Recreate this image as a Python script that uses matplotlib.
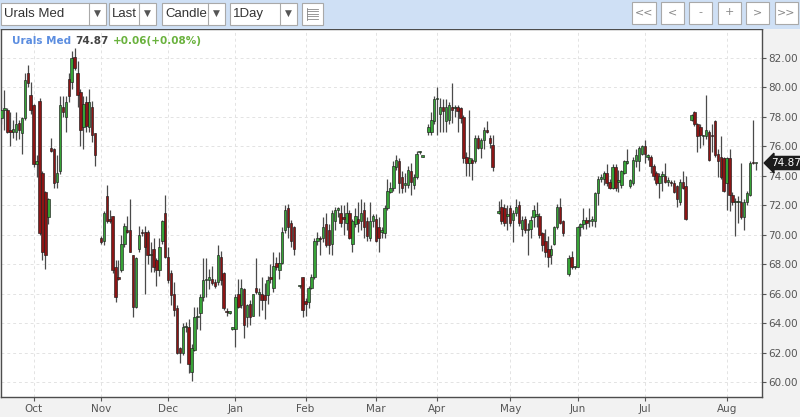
import matplotlib
matplotlib.use("Agg")
import matplotlib.pyplot as plt
from matplotlib.patches import Rectangle
import numpy as np

# ---------------- data (OHLC per session, None = missing session) ----------------
opens = [
    77.9, 78.5, 78.5, 77.1, 77.0, 77.0, 77.6, 76.9, 77.9, 81.0,
    79.5, 78.8, 74.8, 79.1, 74.2, 72.9, 71.2, 75.9, 75.8, 73.6,
    74.3, 78.7, 78.0, 80.6, 80.4, 82.1, 81.0, 79.7, 77.3, 79.0,
    77.3, 78.7, 76.9, None,
    69.8, 69.6, 72.6, 71.05, 71.3, 67.8, 67.1, 67.6, 69.4, 70.3,
    70.3, 68.6, 65.1, 69.0, 70.2, 70.2, 70.2, 68.6, 69.0, 68.3,
    67.6, 69.6, 71.5, 68.5, 67.4, 66.0, 65.0, 62.3, 62.0, 63.7,
    63.7, 60.7, 62.2, 64.4, 64.7, 65.8, 66.9, 66.9, 67.0, 66.8,
    66.8, 68.5, 67.4, 64.85, 64.7, 63.6, 63.6, 66.0, 65.2, 66.3,
    64.4, 65.3, 64.5, 66.4, 66.0, 66.0, 65.9, 65.9, 67.1, 66.4,
    68.1, 67.6, 68.1, 70.3, 71.8, 70.8, 70.5, None,
    66.5, 67.1, 65.5, 65.4, 66.4, 67.1, 69.6, 69.8, 69.8, 70.7,
    70.3, 69.4, 70.9, 71.7, 71.5, 71.2, 70.8, 71.5, 69.4, 70.7,
    71.1, 70.9, 71.7, 70.9, 69.8, 70.9, 71.1, 70.5, 70.2, 70.1,
    71.8, 72.9, 73.2, 74.6, 75.0, 73.9, 73.4, 73.4, 74.3, 73.4,
    73.9, 75.6, 75.3, None,
    77.0, 77.0, 77.7, 79.2, 78.2, 78.7, 77.7, 77.8, 78.7, 78.6,
    78.7, 78.6, 78.0, 75.3, 74.9, 75.1, 75.0, 76.6, 75.9, 76.4,
    77.1, 76.6, 76.1, None,
    71.5, 71.9, 71.8, 71.3, 71.8, 71.0, 71.5, 72.0, 70.4, 71.1,
    70.3, 70.4, 71.2, 71.3, 71.3, 70.1, 69.6, 69.0, 68.6, 69.4,
    70.5, 71.9, 70.9, None,
    67.3, 68.5, 67.8, 67.8, 70.5, 70.7, 71.0, 70.9, 70.9, 70.9,
    72.8, 73.8, 73.8, 74.2, 73.6, 73.2, 74.6, 73.6, 73.4, 74.2,
    74.9, 73.3, 73.5, 75.0, 75.0, 75.5, 76.0, 75.3, 75.3, 74.7,
    74.2, 73.5, 74.0, 74.0, 73.6, 73.6, 73.5, 73.3, 72.2, 73.6,
    73.3, None,
    77.8, 78.3, 77.5, 77.3, 76.7, 76.7, 77.0, 76.8, 77.7, 75.5,
    75.3, 75.2, 73.5, 75.2, 72.7, 72.2, 72.2, 72.2, 71.2, 72.2,
    72.7, 74.9, 74.85,
]
highs = [
    78.7, 79.8, 78.6, 78.3, 77.8, 78.3, 77.8, 78.0, 81.0, 81.5,
    80.4, 78.9, 75.4, 79.3, 74.3, 73.0, 72.5, 76.6, 75.9, 75.4,
    79.4, 79.4, 79.4, 81.0, 82.5, 82.7, 81.8, 79.9, 79.4, 79.4,
    79.9, 79.1, 76.9, None,
    69.9, 71.6, 73.4, 71.7, 71.3, 68.3, 68.3, 70.0, 70.8, 71.3,
    72.4, 68.6, 68.5, 70.6, 70.4, 70.6, 70.3, 69.5, 69.8, 68.4,
    69.8, 71.0, 72.7, 69.2, 67.6, 66.8, 65.2, 62.4, 64.0, 64.1,
    64.3, 62.6, 65.1, 65.1, 66.0, 68.4, 68.4, 67.7, 67.9, 67.0,
    69.3, 68.9, 67.5, 65.0, 64.8, 63.7, 66.0, 67.0, 67.0, 66.4,
    65.3, 65.6, 66.0, 68.4, 66.4, 67.1, 66.7, 67.2, 68.0, 68.8,
    68.5, 68.8, 70.5, 72.0, 72.1, 71.0, 70.6, None,
    66.6, 67.1, 65.7, 66.5, 67.3, 69.8, 70.2, 69.9, 71.2, 71.5,
    70.7, 71.7, 71.9, 71.9, 72.0, 72.0, 72.2, 71.7, 71.1, 71.8,
    72.2, 72.4, 72.2, 71.2, 72.2, 71.4, 71.4, 71.2, 70.5, 72.0,
    73.8, 73.6, 75.0, 75.4, 75.2, 74.3, 74.2, 74.7, 74.9, 74.1,
    75.7, 75.7, 75.35, None,
    77.5, 78.3, 79.4, 80.0, 79.3, 79.2, 79.2, 79.0, 80.3, 78.8,
    78.8, 78.7, 78.1, 75.6, 78.5, 75.2, 76.8, 76.8, 76.6, 77.3,
    77.7, 76.8, 76.8, None,
    72.3, 72.4, 72.1, 72.0, 72.0, 71.7, 72.4, 72.3, 71.3, 71.3,
    70.8, 71.3, 72.0, 72.2, 71.5, 70.2, 70.4, 69.9, 69.3, 70.6,
    72.1, 72.5, 71.0, None,
    68.6, 68.9, 67.9, 70.6, 70.8, 71.8, 71.2, 71.8, 71.3, 72.9,
    74.0, 74.1, 74.3, 74.8, 73.8, 74.8, 74.8, 74.4, 74.4, 75.1,
    75.8, 73.8, 75.3, 75.8, 76.0, 76.1, 76.4, 75.5, 75.4, 74.8,
    74.3, 74.2, 74.3, 74.9, 73.9, 73.7, 73.7, 73.4, 73.8, 74.3,
    74.0, None,
    78.2, 78.4, 77.6, 77.5, 76.8, 79.5, 77.1, 77.5, 77.8, 75.8,
    76.7, 75.3, 75.3, 75.8, 72.9, 72.5, 72.6, 74.9, 72.4, 73.0,
    75.0, 77.8, 74.9,
]
lows = [
    77.5, 77.1, 76.9, 76.0, 76.6, 76.4, 76.5, 75.5, 77.8, 80.0,
    78.2, 74.6, 73.9, 70.0, 68.3, 67.7, 70.7, 75.6, 73.2, 73.2,
    74.1, 78.0, 77.0, 79.0, 79.9, 81.2, 78.7, 76.0, 75.8, 77.0,
    77.0, 76.3, 74.7, None,
    69.4, 69.3, 70.8, 70.8, 67.4, 65.4, 66.9, 67.5, 69.2, 70.1,
    68.8, 64.4, 65.0, 68.8, 69.9, 66.0, 68.0, 67.5, 67.5, 66.5,
    67.2, 69.4, 68.4, 66.7, 65.2, 64.5, 61.9, 61.3, 61.8, 63.4,
    60.6, 60.1, 62.1, 63.6, 63.5, 65.5, 65.8, 66.3, 66.6, 66.4,
    66.6, 66.6, 64.9, 64.5, 64.6, 63.5, 62.4, 65.0, 65.0, 63.0,
    63.7, 63.9, 64.5, 66.0, 64.5, 64.9, 64.3, 65.3, 66.7, 66.1,
    67.6, 67.0, 68.0, 70.1, 69.8, 69.2, 68.6, None,
    66.4, 64.4, 64.5, 65.0, 66.3, 67.0, 69.3, 68.6, 69.5, 69.2,
    68.7, 68.6, 70.3, 71.2, 70.5, 70.0, 70.3, 69.7, 68.8, 70.5,
    70.2, 70.3, 69.8, 69.6, 69.6, 70.5, 69.5, 68.8, 69.8, 69.8,
    71.7, 72.8, 73.0, 74.4, 72.8, 72.8, 72.9, 73.2, 72.7, 73.1,
    73.8, 75.5, 75.25, None,
    76.8, 76.8, 77.5, 76.8, 77.0, 77.0, 77.0, 77.5, 77.6, 78.0,
    77.0, 77.6, 74.9, 74.0, 74.0, 73.7, 74.9, 75.8, 75.2, 75.8,
    76.9, 75.9, 74.3, None,
    71.4, 70.7, 70.6, 70.3, 70.6, 69.5, 71.3, 70.6, 69.9, 70.1,
    68.6, 69.8, 70.5, 70.5, 69.8, 68.9, 68.5, 67.8, 68.0, 69.3,
    70.4, 70.7, 69.9, None,
    67.2, 67.7, 67.7, 67.8, 69.9, 70.4, 70.4, 70.5, 70.6, 70.5,
    72.0, 73.6, 73.4, 73.3, 73.1, 73.1, 73.0, 72.9, 73.2, 74.1,
    74.8, 73.2, 73.4, 74.6, 74.3, 75.4, 74.9, 75.1, 74.2, 73.7,
    73.4, 72.5, 73.0, 73.5, 73.3, 73.3, 72.8, 71.9, 72.0, 73.1,
    71.0, None,
    77.7, 77.4, 75.6, 75.9, 76.1, 76.5, 75.0, 75.6, 75.3, 73.9,
    73.8, 72.9, 71.7, 71.6, 72.0, 69.9, 70.8, 71.1, 70.3, 72.0,
    72.6, 74.8, 74.4,
]
closes = [
    78.5, 78.6, 77.0, 77.0, 77.2, 77.5, 77.1, 77.9, 80.5, 80.3,
    78.5, 74.8, 75.0, 70.1, 68.8, 68.6, 72.4, 75.7, 73.5, 74.2,
    78.8, 78.3, 79.0, 79.4, 82.0, 81.3, 79.5, 77.1, 78.9, 77.4,
    79.0, 76.8, 75.4, None,
    69.5, 71.5, 70.9, 70.95, 67.6, 65.8, 67.0, 69.4, 70.6, 70.2,
    68.8, 65.1, 68.4, 70.0, 70.1, 69.2, 68.6, 68.7, 67.8, 67.6,
    69.2, 70.9, 68.5, 66.9, 65.9, 64.9, 62.0, 62.0, 63.7, 63.8,
    61.2, 62.3, 64.4, 64.5, 65.8, 66.9, 67.0, 67.1, 66.7, 66.5,
    68.6, 66.9, 65.0, 64.75, 64.7, 63.6, 65.8, 65.1, 66.4, 63.9,
    65.2, 64.4, 66.0, 66.1, 66.0, 65.6, 65.6, 66.9, 67.0, 67.9,
    67.8, 68.1, 70.2, 71.7, 70.5, 69.6, 69.0, None,
    66.5, 64.9, 65.3, 66.4, 67.1, 69.6, 69.8, 69.7, 70.5, 69.3,
    69.3, 71.5, 71.7, 71.7, 70.8, 71.1, 71.5, 69.8, 70.9, 71.3,
    70.8, 71.5, 70.5, 69.9, 70.9, 71.3, 69.6, 69.8, 70.2, 71.8,
    73.0, 73.2, 74.7, 75.1, 73.5, 73.2, 73.4, 74.4, 73.6, 73.9,
    75.5, 75.6, 75.3, None,
    77.3, 77.8, 79.2, 79.2, 78.7, 78.4, 78.7, 78.8, 78.5, 78.6,
    78.4, 77.9, 75.2, 74.9, 75.2, 74.9, 76.6, 75.9, 76.4, 77.1,
    77.0, 76.2, 74.6, None,
    71.5, 70.9, 70.8, 71.3, 70.8, 71.5, 71.9, 70.8, 71.0, 70.3,
    70.3, 71.0, 71.7, 71.3, 70.0, 69.3, 68.8, 68.5, 69.0, 70.5,
    71.9, 70.8, 70.1, None,
    68.4, 67.8, 67.8, 70.5, 70.7, 71.0, 70.8, 71.0, 71.1, 72.8,
    73.8, 73.8, 74.2, 73.5, 73.2, 74.6, 73.2, 73.6, 74.3, 75.0,
    75.0, 73.7, 75.1, 75.4, 75.9, 76.0, 75.5, 75.3, 74.7, 74.0,
    73.5, 74.0, 74.0, 73.6, 73.6, 73.5, 72.9, 72.4, 73.6, 73.2,
    71.1, None,
    78.1, 77.5, 76.7, 76.8, 76.7, 77.1, 75.1, 76.7, 75.4, 75.0,
    73.9, 73.0, 75.2, 72.7, 72.2, 72.2, 72.2, 71.2, 72.2, 72.8,
    74.9, 74.85, 74.87,
]
month_labels = ["Oct", "Nov", "Dec", "Jan", "Feb", "Mar", "Apr", "May", "Jun", "Jul", "Aug"]
month_start = [11, 34, 57, 80, 104, 128, 149, 174, 197, 220, 248]
price_ticks = [60, 62, 64, 66, 68, 70, 72, 74, 76, 78, 80, 82]
symbol = "Urals Med"
last_price = "74.87"
change_text = "+0.06(+0.08%)"

# ---------------- figure ----------------
W, H = 800, 417
fig = plt.figure(figsize=(W / 100, H / 100), dpi=100, facecolor="#f2f2f2")


def fig_rect(x0, y0, x1, y1, **kw):
    r = Rectangle((x0 / W, 1 - y1 / H), (x1 - x0) / W, (y1 - y0) / H,
                  transform=fig.transFigure, **kw)
    fig.patches.append(r)
    return r


# toolbar
fig_rect(0, 0, W, 29, facecolor="#cfe0f5", edgecolor="none", zorder=0)
dropdowns = [("Urals Med", 1, 89, 106), ("Last", 109, 139, 156),
             ("Candle", 162, 208, 225), ("1Day", 230, 280, 297)]
for label, x0, xb, x1 in dropdowns:
    fig_rect(x0, 3, x1, 25, facecolor="white", edgecolor="#a9a9a9", lw=0.8, zorder=1)
    fig.add_artist(plt.Line2D([xb / W, xb / W], [1 - 3 / H, 1 - 25 / H],
                              transform=fig.transFigure, color="#a9a9a9", lw=0.8))
    fig.text((x0 + 3) / W, 1 - 14 / H, label, fontsize=9.5, family="Liberation Sans",
             color="#333333", va="center", ha="left")
    fig.text((xb + x1) / 2 / W, 1 - 13 / H, "\u25BC", fontsize=6.5, family="DejaVu Sans",
             color="#555555", va="center", ha="center")
# icon box
fig_rect(302, 3, 323, 25, facecolor="white", edgecolor="#a9a9a9", lw=0.8, zorder=1)
for k in range(5):
    yy = 1 - (9 + k * 2.4) / H
    fig.add_artist(plt.Line2D([307 / W, 318 / W], [yy, yy], transform=fig.transFigure,
                              color="#888888", lw=0.6))
fig.add_artist(plt.Line2D([307 / W, 307 / W], [1 - 8 / H, 1 - 20 / H],
                          transform=fig.transFigure, color="#888888", lw=0.6))
# nav buttons
nav = [("<<", 632, 656), ("<", 661, 684), ("-", 689, 712), ("+", 718, 741), (">", 746, 769), (">>", 775, 798)]
for label, x0, x1 in nav:
    fig_rect(x0, 2, x1, 24, facecolor="white", edgecolor="#a9a9a9", lw=0.8, zorder=1)
    fig.text((x0 + x1) / 2 / W, 1 - 12 / H, label, fontsize=8, family="DejaVu Sans",
             color="#888888", va="center", ha="center")

# chart axes
ax = fig.add_axes([1 / W, 20 / H, 761 / W, 368 / H])
ax.set_facecolor("white")

o = np.array([np.nan if v is None else v for v in opens])
h = np.array([np.nan if v is None else v for v in highs])
l = np.array([np.nan if v is None else v for v in lows])
c = np.array([np.nan if v is None else v for v in closes])
x = np.arange(len(o))
valid = ~np.isnan(o)
up = valid & (c >= o)
dn = valid & (c < o)

ax.vlines(x[valid], l[valid], h[valid], color="#4a4a4a", lw=0.9, zorder=2)
body_w = 0.85
min_h = 0.1
for mask, col in ((up, "#37a337"), (dn, "#8c1515")):
    bottoms = np.minimum(o[mask], c[mask])
    heights = np.maximum(np.abs(c[mask] - o[mask]), min_h)
    ax.bar(x[mask], heights, bottom=bottoms, width=body_w, color=col,
           edgecolor="#1e1e1e", linewidth=0.45, zorder=3)

ax.set_xlim(-0.17, 260.1)
ax.set_ylim(58.98, 83.97)

ax.yaxis.tick_right()
ax.set_yticks(price_ticks)
ax.set_yticklabels([f"{v:.2f}" for v in price_ticks])
ax.set_xticks(month_start)
ax.set_xticklabels(month_labels)
ax.tick_params(axis="y", which="both", direction="out", length=3, width=0.8,
               colors="#555555", labelsize=7.5, pad=1.5)
ax.tick_params(axis="x", which="both", direction="out", length=3, width=0.8,
               colors="#555555", labelsize=7.5, pad=2)
for lab in ax.get_xticklabels() + ax.get_yticklabels():
    lab.set_family("DejaVu Sans")
ax.grid(True, color="#e3e3e3", linestyle=(0, (3, 3)), linewidth=0.7, zorder=0)
ax.set_axisbelow(True)
for s in ax.spines.values():
    s.set_color("#4d4d4d")
    s.set_linewidth(1.0)

# last price tag
ax.text(1.012, c[valid][-1], last_price, transform=ax.get_yaxis_transform(),
        ha="left", va="center", fontsize=7.5, color="white", family="DejaVu Sans",
        bbox=dict(boxstyle="larrow,pad=0.15", facecolor="#1c1c1c", edgecolor="#1c1c1c"),
        clip_on=False, zorder=10)

# header text
fig.text(12 / W, 1 - 41 / H, symbol, fontsize=7.5, fontweight="bold", color="#5b8de0",
         family="DejaVu Sans", va="center", ha="left")
fig.text(75 / W, 1 - 41 / H, last_price, fontsize=7.5, fontweight="bold", color="#444444",
         family="DejaVu Sans", va="center", ha="left")
fig.text(113 / W, 1 - 41 / H, change_text, fontsize=7.5, fontweight="bold", color="#6ab23e",
         family="DejaVu Sans", va="center", ha="left")

fig.savefig("out.png", dpi=100, facecolor=fig.get_facecolor())
